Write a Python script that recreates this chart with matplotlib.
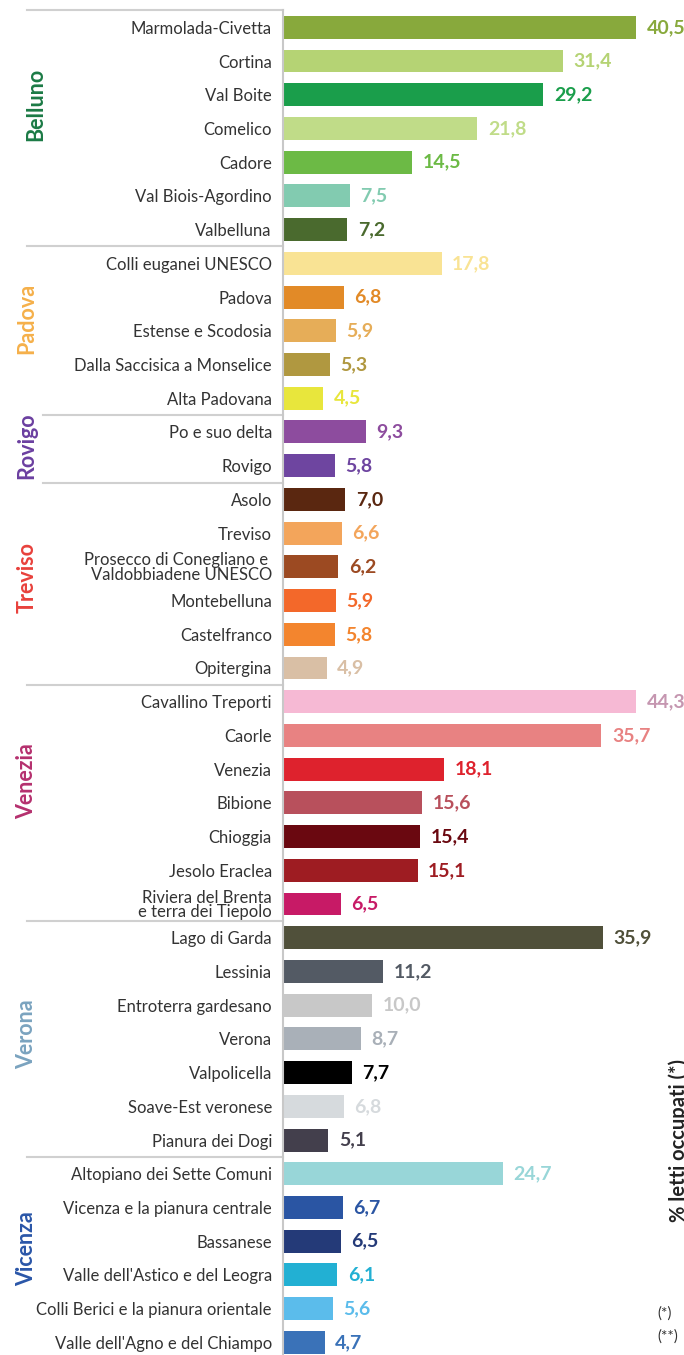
import matplotlib
matplotlib.use("Agg")
import matplotlib.pyplot as plt

plt.rcParams['font.family'] = ['Lato', 'DejaVu Sans']

groups = ["Belluno", "Padova", "Rovigo", "Treviso", "Venezia", "Verona", "Vicenza"]
group_sizes = [7, 5, 2, 6, 7, 7, 6]
group_colors = ["#1b7a45", "#f5b04a", "#6b3fa0", "#e8413c", "#b5306e", "#7aa3bf", "#2a56a8"]

labels = [
    "Marmolada-Civetta", "Cortina", "Val Boite", "Comelico", "Cadore", "Val Biois-Agordino", "Valbelluna",
    "Colli euganei UNESCO", "Padova", "Estense e Scodosia", "Dalla Saccisica a Monselice", "Alta Padovana",
    "Po e suo delta", "Rovigo",
    "Asolo", "Treviso", "Prosecco di Conegliano e \nValdobbiadene UNESCO", "Montebelluna", "Castelfranco", "Opitergina",
    "Cavallino Treporti", "Caorle", "Venezia", "Bibione", "Chioggia", "Jesolo Eraclea", "Riviera del Brenta\ne terra dei Tiepolo",
    "Lago di Garda", "Lessinia", "Entroterra gardesano", "Verona", "Valpolicella", "Soave-Est veronese", "Pianura dei Dogi",
    "Altopiano dei Sette Comuni", "Vicenza e la pianura centrale", "Bassanese", "Valle dell'Astico e del Leogra",
    "Colli Berici e la pianura orientale", "Valle dell'Agno e del Chiampo",
]

values = [
    40.5, 31.4, 29.2, 21.8, 14.5, 7.5, 7.2,
    17.8, 6.8, 5.9, 5.3, 4.5,
    9.3, 5.8,
    7.0, 6.6, 6.2, 5.9, 5.8, 4.9,
    44.3, 35.7, 18.1, 15.6, 15.4, 15.1, 6.5,
    35.9, 11.2, 10.0, 8.7, 7.7, 6.8, 5.1,
    24.7, 6.7, 6.5, 6.1, 5.6, 4.7,
]

bar_colors = [
    "#88a93c", "#b5d374", "#1a9e4b", "#c0dc88", "#6cba45", "#82cbb0", "#4a6a2e",
    "#f9e394", "#e28a27", "#e6ad58", "#b09840", "#e8e63c",
    "#8d4c9e", "#6e45a0",
    "#5a2710", "#f3a55b", "#9c4a22", "#f3682a", "#f3852e", "#d9bfa5",
    "#f6b9d4", "#e88282", "#de222d", "#b8505c", "#6a0810", "#9e1c22", "#c71a66",
    "#50503a", "#535a64", "#c8c8c8", "#a9b0b8", "#000000", "#d6dadd", "#433f4c",
    "#98d6d8", "#2a55a3", "#243a78", "#22b0d3", "#5bbceb", "#3a72b8",
]
label_colors = list(bar_colors)
label_colors[20] = "#c596b0"

W, H = 684, 1355
fig = plt.figure(figsize=(W / 100, H / 100), dpi=100)

x0_px, x1_px = 283, 636
first_px, step_px = 27.3, 33.72
top_px = first_px - step_px / 2
n = len(values)
bot_px = first_px + (n - 1) * step_px + step_px / 2
ax = fig.add_axes([x0_px / W, (H - bot_px) / H, (x1_px - x0_px) / W, (bot_px - top_px) / H])

ypos = list(range(n))
xmax = (x1_px - x0_px) / 8.92
ax.barh(ypos, values, height=0.68, color=bar_colors, zorder=2)
ax.set_xlim(0, xmax)
ax.set_ylim(n - 0.5, -0.5)

for s in ["top", "right", "bottom"]:
    ax.spines[s].set_visible(False)
ax.spines["left"].set_color("#c8c8c8")
ax.spines["left"].set_linewidth(1.5)
ax.set_xticks([])
ax.set_yticks(ypos)
ax.set_yticklabels(labels, fontsize=12, color="#333333", linespacing=0.88)
ax.tick_params(axis="y", length=0, pad=8)

for i, (v, c) in enumerate(zip(values, label_colors)):
    xv = min(v, xmax)
    ax.annotate(f"{v:.1f}".replace(".", ","), xy=(xv, i), xytext=(7.5, 0),
                textcoords="offset points", va="center", ha="left",
                fontsize=14, fontweight="bold", color=c, annotation_clip=False)

# group separators and group labels
trans = ax.get_yaxis_transform()
label_y_px = [104, 318, 446, 578, 781, 1034, 1249]
label_x_px = [36, 27, 27, 27, 27, 27, 27]
start = 0
sep_x_wide = (27 - x0_px) / (x1_px - x0_px)
sep_x_narrow = (43 - x0_px) / (x1_px - x0_px)
for g, size, col, ly, lx in zip(groups, group_sizes, group_colors, label_y_px, label_x_px):
    b = start - 0.5
    xs = sep_x_narrow if g in ("Rovigo", "Treviso") else sep_x_wide
    ax.plot([xs, 0], [b, b], transform=trans, color="#d0d0d0", lw=1.5, clip_on=False)
    yd = (ly - first_px) / step_px
    gx_ax = (lx - x0_px) / (x1_px - x0_px)
    ax.text(gx_ax, yd, g, transform=trans, rotation=90, ha="center", va="center",
            fontsize=15.5, fontweight="bold", color=col, clip_on=False)
    start += size

fig.text(679 / W, 1 - 1141 / H, "% letti occupati (*)", rotation=90, ha="center", va="center",
         fontsize=14.5, fontweight="bold", color="#222222")
fig.text(657 / W, 1 - 1314 / H, "(*)", ha="left", va="center", fontsize=11, color="#333333")
fig.text(657 / W, 1 - 1337 / H, "(**)", ha="left", va="center", fontsize=11, color="#333333")

fig.savefig("out.png", dpi=100)
